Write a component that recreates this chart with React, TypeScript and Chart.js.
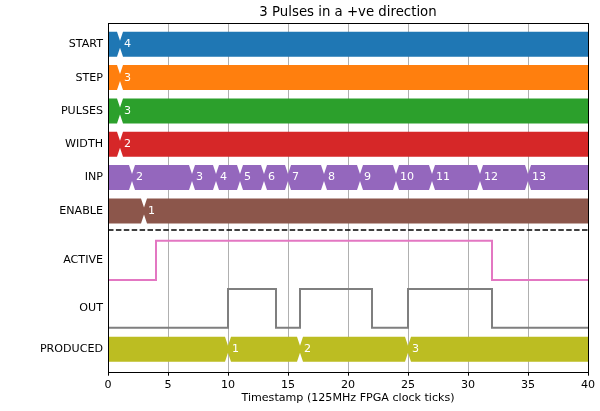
import { useEffect, useRef } from 'react';
import { Chart, registerables } from 'chart.js';

Chart.register(...registerables);

const TITLE = '3 Pulses in a +ve direction';
const X_LABEL = 'Timestamp (125MHz FPGA clock ticks)';
const X_MIN = 0;
const X_MAX = 40;
const X_STEP = 5;

// Bus signals: time of each transition and the value held after it
const START_TIMES = [1];
const START_VALUES = [4];
const STEP_TIMES = [1];
const STEP_VALUES = [3];
const PULSES_TIMES = [1];
const PULSES_VALUES = [3];
const WIDTH_TIMES = [1];
const WIDTH_VALUES = [2];
const INP_TIMES = [2, 7, 9, 11, 13, 15, 18, 21, 24, 27, 31, 35];
const INP_VALUES = [2, 3, 4, 5, 6, 7, 8, 9, 10, 11, 12, 13];
const ENABLE_TIMES = [3];
const ENABLE_VALUES = [1];
const PRODUCED_TIMES = [10, 16, 25];
const PRODUCED_VALUES = [1, 2, 3];

// Single-bit signals: time of each edge and the logic level after it
const ACTIVE_TIMES = [0, 4, 32];
const ACTIVE_LEVELS = [0, 1, 0];
const OUT_TIMES = [0, 10, 14, 16, 22, 25, 32];
const OUT_LEVELS = [0, 1, 0, 1, 0, 1, 0];

// Row layout (in row pitches, counted downward from the first row)
const Y_MIN = -0.63;
const Y_MAX = 9.825;
const SEPARATOR_Y = 5.574;
const BAR_HALF = 0.375;
const NOTCH_HALF_WIDTH = 0.25;
const NOTCH_DEPTH = 0.72;

type Bus = { name: string; row: number; color: string; times: number[]; values: number[] };
type Bit = { name: string; row: number; high: number; low: number; color: string; times: number[]; levels: number[] };

const BUSES: Bus[] = [
  { name: 'START', row: 0, color: '#1f77b4', times: START_TIMES, values: START_VALUES },
  { name: 'STEP', row: 1, color: '#ff7f0e', times: STEP_TIMES, values: STEP_VALUES },
  { name: 'PULSES', row: 2, color: '#2ca02c', times: PULSES_TIMES, values: PULSES_VALUES },
  { name: 'WIDTH', row: 3, color: '#d62728', times: WIDTH_TIMES, values: WIDTH_VALUES },
  { name: 'INP', row: 4, color: '#9467bd', times: INP_TIMES, values: INP_VALUES },
  { name: 'ENABLE', row: 5, color: '#8c564b', times: ENABLE_TIMES, values: ENABLE_VALUES },
  { name: 'PRODUCED', row: 9.15, color: '#bcbd22', times: PRODUCED_TIMES, values: PRODUCED_VALUES },
];

const BITS: Bit[] = [
  { name: 'ACTIVE', row: 6.48, high: 5.895, low: 7.074, color: '#e377c2', times: ACTIVE_TIMES, levels: ACTIVE_LEVELS },
  { name: 'OUT', row: 7.92, high: 7.344, low: 8.505, color: '#7f7f7f', times: OUT_TIMES, levels: OUT_LEVELS },
];

const ROWS = [...BUSES.slice(0, 6), ...BITS, BUSES[6]];
const ROW_LABELS = ROWS.map((r) => r.name);
const ROW_Y = ROWS.map((r) => r.row);

const FONT = 'DejaVu Sans';

// One edge of a bus ribbon: flat, with a V-shaped notch at every transition
function busEdge(bus: Bus, side: number) {
  const edge = bus.row + side * BAR_HALF;
  const apex = bus.row + side * BAR_HALF * (1 - NOTCH_DEPTH);
  const pts = [{ x: X_MIN - 1, y: edge }];
  bus.times.forEach((t) => {
    pts.push({ x: t - NOTCH_HALF_WIDTH, y: edge }, { x: t, y: apex }, { x: t + NOTCH_HALF_WIDTH, y: edge });
  });
  pts.push({ x: X_MAX + 1, y: edge });
  return pts;
}

function bitTrace(bit: Bit) {
  const pts = bit.times.map((t, i) => ({ x: t, y: bit.levels[i] ? bit.high : bit.low }));
  const last = bit.levels[bit.levels.length - 1];
  pts.push({ x: X_MAX, y: last ? bit.high : bit.low });
  return pts;
}

const base = { pointRadius: 0, tension: 0, borderWidth: 0 };

function buildDatasets() {
  const sets: any[] = [];
  BUSES.forEach((bus) => {
    sets.push({ ...base, data: busEdge(bus, -1), fill: false, borderColor: bus.color, backgroundColor: bus.color });
    sets.push({ ...base, data: busEdge(bus, 1), fill: '-1', borderColor: bus.color, backgroundColor: bus.color });
  });
  BITS.forEach((bit) => {
    sets.push({
      ...base,
      data: bitTrace(bit),
      fill: false,
      stepped: 'before',
      borderWidth: 2,
      borderColor: bit.color,
      borderCapStyle: 'butt',
      borderJoinStyle: 'miter',
    });
  });
  sets.push({
    ...base,
    data: [
      { x: X_MIN, y: SEPARATOR_Y },
      { x: X_MAX, y: SEPARATOR_Y },
    ],
    fill: false,
    borderWidth: 1.5,
    borderColor: '#000000',
    borderDash: [5.5, 2.4],
  });
  return sets;
}

// Title centred over the plot, white value labels after each bus transition, and the axes frame
const overlay = {
  id: 'overlay',
  afterDraw(chart: any) {
    const { ctx, chartArea, scales } = chart;

    ctx.save();
    ctx.fillStyle = '#000000';
    ctx.font = `13.3px "${FONT}"`;
    ctx.textAlign = 'center';
    ctx.textBaseline = 'middle';
    ctx.fillText(TITLE, (chartArea.left + chartArea.right) / 2, 12.8);
    ctx.restore();

    ctx.save();
    ctx.beginPath();
    ctx.rect(chartArea.left, chartArea.top, chartArea.right - chartArea.left, chartArea.bottom - chartArea.top);
    ctx.clip();
    ctx.fillStyle = '#ffffff';
    ctx.font = `11.1px "${FONT}"`;
    ctx.textAlign = 'left';
    ctx.textBaseline = 'middle';
    BUSES.forEach((bus) => {
      const y = scales.y.getPixelForValue(bus.row);
      bus.times.forEach((t, i) => {
        ctx.fillText(String(bus.values[i]), scales.x.getPixelForValue(t) + 4, y);
      });
    });
    ctx.restore();

    ctx.save();
    ctx.strokeStyle = '#000000';
    ctx.lineWidth = 1;
    const l = Math.round(chartArea.left) + 0.5;
    const t = Math.round(chartArea.top) + 0.5;
    const r = Math.round(chartArea.right) + 0.5;
    const b = Math.round(chartArea.bottom) + 0.5;
    ctx.strokeRect(l, t, r - l, b - t);
    ctx.restore();
  },
};

export default function App() {
  const ref = useRef<HTMLCanvasElement>(null);

  useEffect(() => {
    document.body.style.margin = '0';
    const canvas = ref.current;
    if (!canvas) return;
    const chart = new Chart(canvas, {
      type: 'line',
      data: { datasets: buildDatasets() },
      options: {
        responsive: false,
        animation: false,
        devicePixelRatio: 1,
        events: [],
        layout: { padding: { left: 0, right: 12, top: 23.3, bottom: 0 } },
        plugins: {
          legend: { display: false },
          tooltip: { enabled: false },
          title: { display: false },
        },
        scales: {
          x: {
            type: 'linear',
            min: X_MIN,
            max: X_MAX,
            z: 1,
            afterFit: (scale: any) => {
              scale.height = 39.3;
            },
            ticks: {
              stepSize: X_STEP,
              color: '#000000',
              font: { family: FONT, size: 11.1 },
              padding: 2.5,
              maxRotation: 0,
            },
            grid: {
              display: true,
              color: '#b0b0b0',
              lineWidth: 1,
              drawTicks: true,
              tickLength: 4,
              tickColor: '#000000',
            },
            border: { display: false },
            title: {
              display: true,
              text: X_LABEL,
              color: '#000000',
              font: { family: FONT, size: 11.1 },
              padding: { top: 0, bottom: 5.8 },
            },
          },
          y: {
            type: 'linear',
            reverse: true,
            min: Y_MIN,
            max: Y_MAX,
            afterFit: (scale: any) => {
              scale.width = 108;
            },
            afterBuildTicks: (scale: any) => {
              scale.ticks = ROW_Y.map((value) => ({ value }));
            },
            ticks: {
              color: '#000000',
              font: { family: FONT, size: 11.1 },
              padding: 5,
              autoSkip: false,
              callback: (_v: any, i: number) => ROW_LABELS[i],
            },
            grid: { display: false, drawTicks: false },
            border: { display: false },
          },
        },
      },
      plugins: [overlay],
    });
    return () => chart.destroy();
  }, []);

  return <canvas ref={ref} width={600} height={411} style={{ display: 'block', width: 600, height: 411 }} />;
}
